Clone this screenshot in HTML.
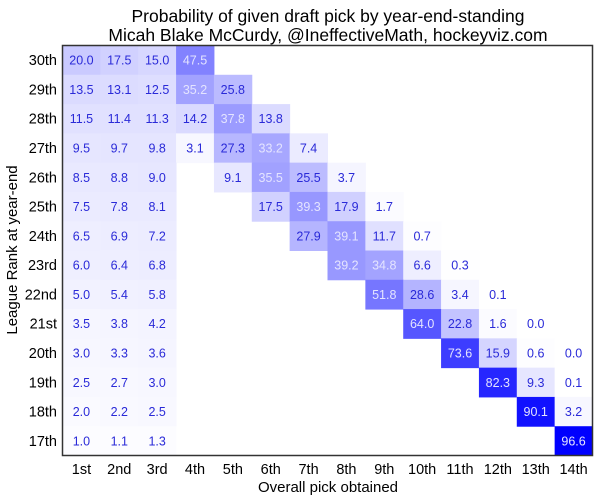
<!DOCTYPE html>
<html><head><meta charset="utf-8"><style>
body{margin:0;background:#fff;}
svg{display:block;font-family:"Liberation Sans",Arial,sans-serif;}
</style></head><body>
<svg id="chart" width="600" height="501" viewBox="0 0 600 501">
<text x="328" y="22" text-anchor="middle" font-size="17.5">Probability of given draft pick by year-end-standing</text>
<text x="328" y="41" text-anchor="middle" font-size="17.5">Micah Blake McCurdy, @IneffectiveMath, hockeyviz.com</text>
<g id="cells"></g>
<rect x="62.5" y="45.5" width="530" height="410" fill="none" stroke="#333" stroke-width="1.5"/>
<g id="ticks"></g>
<text x="328" y="492" text-anchor="middle" font-size="15">Overall pick obtained</text>
<text transform="translate(17,250) rotate(-90)" text-anchor="middle" font-size="15">League Rank at year-end</text>
</svg>
<script>
const colLabels=["1st","2nd","3rd","4th","5th","6th","7th","8th","9th","10th","11th","12th","13th","14th"];
const rowLabels=["30th","29th","28th","27th","26th","25th","24th","23rd","22nd","21st","20th","19th","18th","17th"];
const N=null;
const row30=[20.0,17.5,15.0,47.5];
const row29=[13.5,13.1,12.5,35.2,25.8];
const row28=[11.5,11.4,11.3,14.2,37.8,13.8];
const row27=[9.5,9.7,9.8,3.1,27.3,33.2,7.4];
const row26=[8.5,8.8,9.0,N,9.1,35.5,25.5,3.7];
const row25=[7.5,7.8,8.1,N,N,17.5,39.3,17.9,1.7];
const row24=[6.5,6.9,7.2,N,N,N,27.9,39.1,11.7,0.7];
const row23=[6.0,6.4,6.8,N,N,N,N,39.2,34.8,6.6,0.3];
const row22=[5.0,5.4,5.8,N,N,N,N,N,51.8,28.6,3.4,0.1];
const row21=[3.5,3.8,4.2,N,N,N,N,N,N,64.0,22.8,1.6,0.0];
const row20=[3.0,3.3,3.6,N,N,N,N,N,N,N,73.6,15.9,0.6,0.0];
const row19=[2.5,2.7,3.0,N,N,N,N,N,N,N,N,82.3,9.3,0.1];
const row18=[2.0,2.2,2.5,N,N,N,N,N,N,N,N,N,90.1,3.2];
const row17=[1.0,1.1,1.3,N,N,N,N,N,N,N,N,N,N,96.6];
const values=[row30,row29,row28,row27,row26,row25,row24,row23,row22,row21,row20,row19,row18,row17];

const NS="http://www.w3.org/2000/svg";
const L=62.5,T=45.5,W=530,H=410;
const cw=W/colLabels.length, rh=H/rowLabels.length;
const xS=i=>L+i*cw, yS=j=>T+j*rh;
const maxV=96.6;
const cells=document.getElementById('cells'), ticks=document.getElementById('ticks');
function mk(tag,attrs){const e=document.createElementNS(NS,tag);for(const k in attrs)e.setAttribute(k,attrs[k]);return e;}
values.forEach((row,j)=>{
  row.forEach((v,i)=>{
    if(v===null)return;
    const c=Math.round(255*(1-v/maxV));
    const r=mk('rect',{x:xS(i),y:yS(j),width:cw+0.5,height:rh+0.5,fill:`rgb(${c},${c},255)`});
    
    
    cells.appendChild(r);
    const t=mk('text',{x:xS(i)+cw/2,y:yS(j)+rh/2+4.5,'text-anchor':'middle','font-size':'12.5',fill:v>30?'#e4e4ff':'#2a2ad8'});
    t.textContent=v.toFixed(1);
    
    
    cells.appendChild(t);
  });
});
colLabels.forEach((s,i)=>{
  const t=mk('text',{x:xS(i)+cw/2,y:474,'text-anchor':'middle','font-size':'14.5'});
  t.textContent=s;
  
  
  ticks.appendChild(t);
});
rowLabels.forEach((s,j)=>{
  const t=mk('text',{x:57,y:yS(j)+rh/2+5,'text-anchor':'end','font-size':'14.5'});
  t.textContent=s;
  
  
  ticks.appendChild(t);
});
</script>
</body></html>
